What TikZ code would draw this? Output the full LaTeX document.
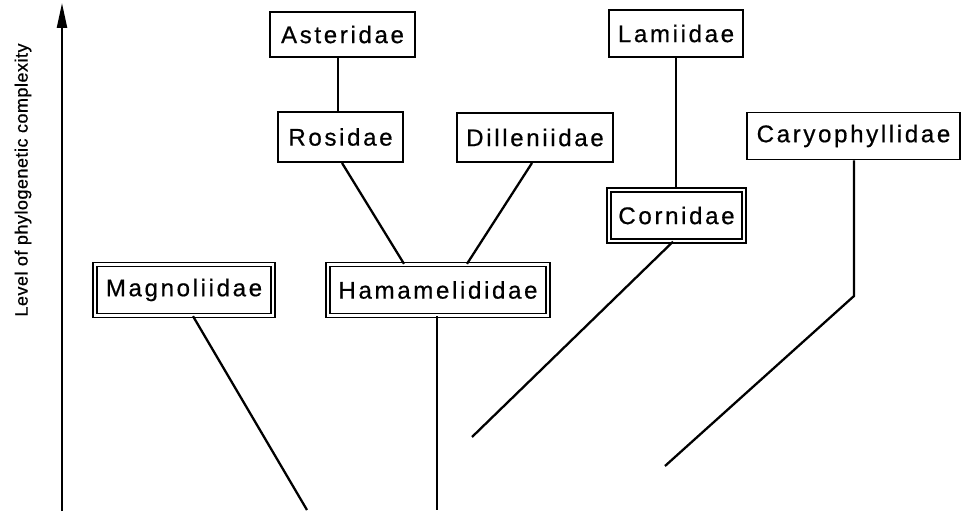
\documentclass[tikz,border=0pt]{standalone}
\usepackage{fontspec}
\setmainfont{Liberation Sans}
\newfontfamily\taxfont[LetterSpace=11,FakeBold=0.6]{Liberation Sans}
\newfontfamily\axisfont[LetterSpace=3,FakeBold=0.6]{Liberation Sans}
\usepackage{tikz}
\usetikzlibrary{arrows.meta,positioning,calc}

\tikzset{
  taxon/.style={draw,line width=1.1pt,minimum height=0.94cm,inner sep=0pt,
    font=\taxfont\fontsize{13.7}{16}\selectfont},
  basetaxon/.style={taxon,double,line width=0.75pt,double distance=1.5pt,minimum height=1.02cm},
  branch/.style={line width=1.3pt},
}

\begin{document}
\begin{tikzpicture}[x=0.02cm,y=-0.02cm]
  \useasboundingbox (0,0) rectangle (969,516);

  % Left: complexity axis
  \coordinate (axbot) at (62,511);
  \coordinate (axtop) at (62,3);
  \draw[branch,-{Triangle[length=0.5cm,width=0.2cm]}] (axbot) -- (axtop);
  \node[rotate=90,font=\axisfont\fontsize{10.2}{12}\selectfont] (axlabel) at (23,180) {Level of phylogenetic complexity};

  % Top row
  \node[taxon,minimum height=0.9cm,minimum width=2.9cm] (aster) at (342.5,34.5) {Asteridae};
  \node[taxon,minimum width=2.68cm] (lami) at (676,33.5) {Lamiidae};

  % Middle row
  \node[taxon,minimum height=1cm,minimum width=2.5cm] (rosi) at (340.5,137) {Rosidae};
  \node[taxon,minimum height=0.98cm,minimum width=3.12cm] (dill) at (535,137.5) {Dilleniidae};
  \node[taxon,minimum width=4.26cm] (cary) at (853.5,136) {Caryophyllidae};
  \node[basetaxon,minimum width=2.7cm] (corn) at (676.5,215.5) {Cornidae};

  % Base row
  \node[basetaxon,minimum width=3.56cm] (magn) at (184,290) {Magnoliidae};
  \node[basetaxon,minimum width=4.4cm] (hama) at (438,290) {Hamamelididae};

  % Free ends of the branches
  \coordinate (carybend) at (854,296);
  \coordinate (caryend) at (665,466);
  \coordinate (cornend) at (472,437);
  \coordinate (magnend) at (307,510);
  \coordinate (hamaend) at (437,510);

  % Branches
  \draw[branch] ([xshift=-0.09cm]aster.south) -- ([xshift=-0.09cm]aster.south |- rosi.north);
  \draw[branch] (lami.south) -- (lami.south |- corn.north);
  \draw[branch] ([xshift=0.03cm]rosi.south) -- ([xshift=-0.68cm]hama.north);
  \draw[branch] ([xshift=-0.06cm]dill.south) -- ([xshift=0.58cm]hama.north);
  \draw[branch] ([xshift=0.01cm]cary.south) -- (carybend) -- (caryend);
  \draw[branch] ([xshift=-0.07cm]corn.south) -- (cornend);
  \draw[branch] ([xshift=0.18cm]magn.south) -- (magnend);
  \draw[branch] ([xshift=-0.02cm]hama.south) -- (hamaend);
\end{tikzpicture}
\end{document}
